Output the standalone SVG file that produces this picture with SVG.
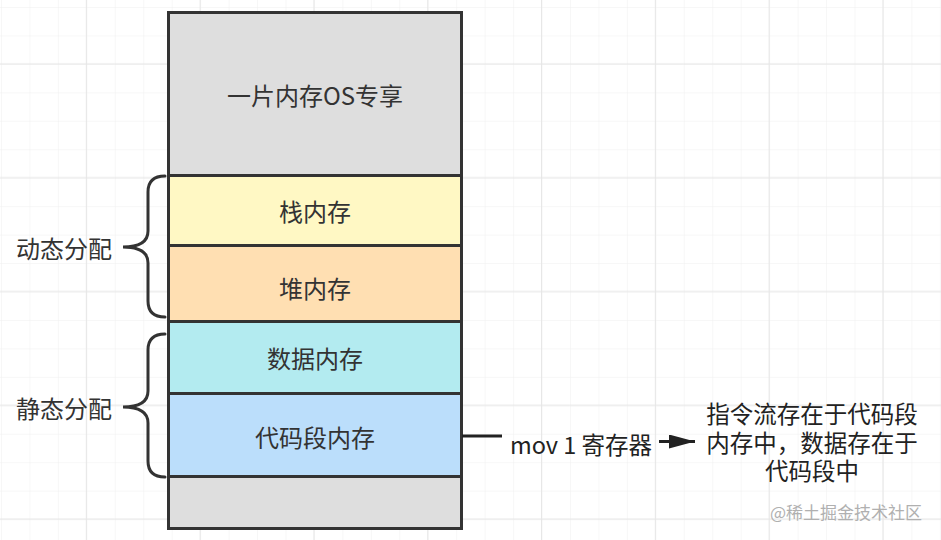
<svg xmlns="http://www.w3.org/2000/svg" width="941" height="540" viewBox="0 0 941 540">
<defs>
<pattern id="grid" x="1" y="7" width="28.45" height="28.45" patternUnits="userSpaceOnUse">
<path d="M0,0 H28.45 M0,0 V28.45" fill="none" stroke="#efefef" stroke-width="1"/>
</pattern>
<pattern id="grid4" x="1" y="7" width="113.8" height="113.8" patternUnits="userSpaceOnUse">
<path d="M85.35,0 V113.8 M0,56.9 H113.8" fill="none" stroke="#e6e6e6" stroke-width="1"/>
</pattern>
<marker id="arr" viewBox="0 0 26 14" refX="26" refY="7" markerWidth="26" markerHeight="14" markerUnits="userSpaceOnUse" orient="auto">
<path d="M0,0 L26,7 L0,14 z" fill="#222"/>
</marker>
</defs>
<style>
.blk{stroke:#333;stroke-width:3}
.t{font-family:"Noto Sans CJK SC","Microsoft YaHei",sans-serif;font-size:24px;fill:#333;text-anchor:middle}
.n{font-family:"Noto Sans CJK SC","Microsoft YaHei",sans-serif;font-size:23.5px;fill:#222;text-anchor:middle}
.brace{fill:none;stroke:#333;stroke-width:3;stroke-linecap:round}
.wm{font-family:"Noto Sans CJK SC",sans-serif;font-size:17px;fill:#b0b0b0;text-anchor:end}
</style>
<rect width="941" height="540" fill="#fff"/>
<rect width="941" height="540" fill="url(#grid)"/>
<rect width="941" height="540" fill="url(#grid4)"/>

<g id="os">
<rect class="blk" x="168.5" y="12.5" width="293" height="163" fill="#dedede"/>
<text class="t" x="315" y="105">一片内存OS专享</text>
</g>
<g id="stack">
<rect class="blk" x="168.5" y="175.5" width="293" height="70" fill="#fff8c4"/>
<text class="t" x="315" y="221">栈内存</text>
</g>
<g id="heap">
<rect class="blk" x="168.5" y="245.5" width="293" height="76" fill="#ffdfb2"/>
<text class="t" x="315" y="298">堆内存</text>
</g>
<g id="data">
<rect class="blk" x="168.5" y="321.5" width="293" height="72" fill="#b3ebf0"/>
<text class="t" x="315" y="368">数据内存</text>
</g>
<g id="code">
<rect class="blk" x="168.5" y="393.5" width="293" height="83" fill="#bbdefb"/>
<text class="t" x="315" y="447">代码段内存</text>
</g>
<g id="bottom">
<rect class="blk" x="168.5" y="476.5" width="293" height="52" fill="#dedede"/>
</g>

<g id="dynamic">
<path class="brace" d="M165,176 Q148,176 148,192 L148,231 Q148,247 123,247 Q148,247 148,263 L148,301 Q148,317 165,317"/>
<text class="t" x="64" y="258">动态分配</text>
</g>
<g id="static">
<path class="brace" d="M165,334 Q148,334 148,350 L148,391 Q148,407 123,407 Q148,407 148,423 L148,461 Q148,477 165,477"/>
<text class="t" x="64" y="418">静态分配</text>
</g>

<g id="connectors">
<path d="M462,436 H502" fill="none" stroke="#222" stroke-width="3"/>
<path d="M659,441.5 H695" fill="none" stroke="#222" stroke-width="3" marker-end="url(#arr)"/>
<text class="n" x="581" y="454">mov 1 寄存器</text>
</g>

<g id="note">
<text class="n" x="812" y="423">指令流存在于代码段</text>
<text class="n" x="812" y="452">内存中，数据存在于</text>
<text class="n" x="812" y="480">代码段中</text>
</g>
<text class="wm" x="922" y="519">@稀土掘金技术社区</text>
</svg>
